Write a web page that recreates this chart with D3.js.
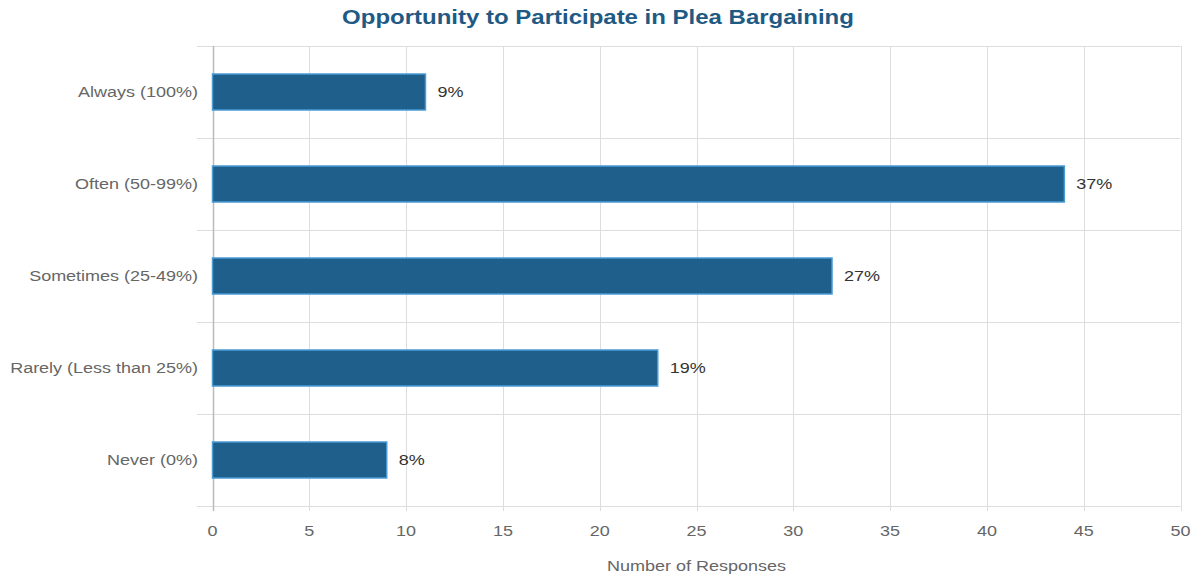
<!DOCTYPE html>
<html><head><meta charset="utf-8">
<script src="https://cdn.jsdelivr.net/npm/d3@7"></script>
<style>body{margin:0;background:#fff;} svg{display:block;font-family:"Liberation Sans",Arial,sans-serif;}</style>
</head><body>
<svg id="c" width="1193" height="577"></svg>
<script>
const categories = ["Always (100%)", "Often (50-99%)", "Sometimes (25-49%)", "Rarely (Less than 25%)", "Never (0%)"];
const values = [11, 44, 32, 23, 9];
const percentLabels = ["9%", "37%", "27%", "19%", "8%"];
const xTicks = [0, 5, 10, 15, 20, 25, 30, 35, 40, 45, 50];
const title = "Opportunity to Participate in Plea Bargaining";
const xTitle = "Number of Responses";

(function () {
const svg = d3.select("#c");
const pL = 212.5, pR = 1180.5, pT = 46, pB = 506;
const sx = 1.2;
const x = d3.scaleLinear().domain([0, 50]).range([pL, pR]);
const y = d3.scaleBand().domain(categories).range([pT, pB]).paddingInner(0).paddingOuter(0);
const barH = 36;
const tr = (px, py) => `translate(${px},${py}) scale(${sx},1)`;

const bounds = categories.map(c => y(c)).concat([pB]);
svg.append("g").selectAll("line").data(bounds).join("line")
  .attr("x1", 197).attr("x2", pR).attr("y1", d => Math.round(d) + 0.5).attr("y2", d => Math.round(d) + 0.5)
  .attr("stroke", "#dddddd").attr("stroke-width", 1);

svg.append("g").selectAll("line").data(xTicks).join("line")
  .attr("x1", d => Math.round(x(d)) + 0.5).attr("x2", d => Math.round(x(d)) + 0.5)
  .attr("y1", pT).attr("y2", pB + 5)
  .attr("stroke", "#dddddd").attr("stroke-width", 1);

svg.append("line").attr("x1", Math.round(pL) + 0.5).attr("x2", Math.round(pL) + 0.5)
  .attr("y1", pT).attr("y2", pB + 5).attr("stroke", "#bbbbbb").attr("stroke-width", 1.5);

svg.append("g").selectAll("rect").data(values).join("rect")
  .attr("x", x(0)).attr("y", (d, i) => y(categories[i]) + (y.bandwidth() - barH) / 2)
  .attr("width", d => x(d) - x(0)).attr("height", barH)
  .attr("fill", "#1f5f8b").attr("stroke", "#4b9bd5").attr("stroke-width", 1.5);

svg.append("g").selectAll("text").data(values).join("text")
  .attr("transform", (d, i) => tr(x(d) + 12, y(categories[i]) + y.bandwidth() / 2))
  .attr("dy", "0.35em").attr("font-size", 15).attr("fill", "#333")
  .text((d, i) => percentLabels[i]);

svg.append("g").selectAll("text").data(categories).join("text")
  .attr("transform", d => tr(198, y(d) + y.bandwidth() / 2)).attr("dy", "0.35em")
  .attr("text-anchor", "end").attr("font-size", 15).attr("fill", "#666").text(d => d);

svg.append("g").selectAll("text").data(xTicks).join("text")
  .attr("transform", d => tr(x(d), 531)).attr("dy", "0.35em")
  .attr("text-anchor", "middle").attr("font-size", 15).attr("fill", "#666").text(d => d);

svg.append("text").attr("transform", tr((pL + pR) / 2, 566)).attr("dy", "0.35em")
  .attr("text-anchor", "middle").attr("font-size", 15).attr("fill", "#666").text(xTitle);

svg.append("text").attr("transform", tr(598, 17)).attr("dy", "0.35em")
  .attr("text-anchor", "middle").attr("font-size", 20).attr("font-weight", "bold").attr("fill", "#1f5a84").text(title);
})();
</script>
</body></html>
